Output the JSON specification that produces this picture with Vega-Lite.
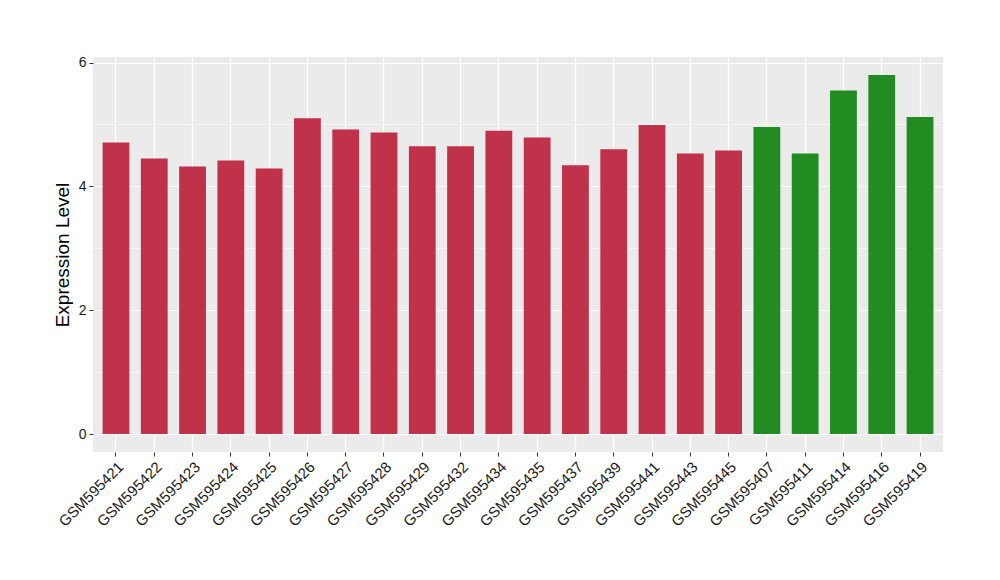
{
  "$schema": "https://vega.github.io/schema/vega-lite/v6.json",
  "autosize": {"type": "none"},
  "width": 850,
  "height": 395,
  "padding": {"left": 93, "top": 57, "right": 57, "bottom": 128},
  "background": "white",
  "config": {
    "view": {"fill": "#EBEBEB", "stroke": null},
    "font": "Liberation Sans"
  },
  "data": {
    "values": [
      {"sample": "GSM595421", "value": 4.71, "group": "a"},
      {"sample": "GSM595422", "value": 4.45, "group": "a"},
      {"sample": "GSM595423", "value": 4.32, "group": "a"},
      {"sample": "GSM595424", "value": 4.42, "group": "a"},
      {"sample": "GSM595425", "value": 4.29, "group": "a"},
      {"sample": "GSM595426", "value": 5.10, "group": "a"},
      {"sample": "GSM595427", "value": 4.92, "group": "a"},
      {"sample": "GSM595428", "value": 4.87, "group": "a"},
      {"sample": "GSM595429", "value": 4.65, "group": "a"},
      {"sample": "GSM595432", "value": 4.65, "group": "a"},
      {"sample": "GSM595434", "value": 4.90, "group": "a"},
      {"sample": "GSM595435", "value": 4.79, "group": "a"},
      {"sample": "GSM595437", "value": 4.34, "group": "a"},
      {"sample": "GSM595439", "value": 4.60, "group": "a"},
      {"sample": "GSM595441", "value": 4.99, "group": "a"},
      {"sample": "GSM595443", "value": 4.53, "group": "a"},
      {"sample": "GSM595445", "value": 4.58, "group": "a"},
      {"sample": "GSM595407", "value": 4.96, "group": "b"},
      {"sample": "GSM595411", "value": 4.53, "group": "b"},
      {"sample": "GSM595414", "value": 5.55, "group": "b"},
      {"sample": "GSM595416", "value": 5.80, "group": "b"},
      {"sample": "GSM595419", "value": 5.12, "group": "b"}
    ]
  },
  "encoding": {
    "x": {
      "field": "sample",
      "type": "nominal",
      "sort": null,
      "scale": {"paddingInner": 0.3, "paddingOuter": 0.25},
      "axis": {
        "title": null,
        "labelAngle": -45,
        "labelAlign": "right",
        "labelBaseline": "top",
        "labelFontSize": 15,
        "labelColor": "#1a1a1a",
        "labelPadding": 3,
        "tickColor": "#333333",
        "tickSize": 4,
        "domain": false,
        "grid": true,
        "gridColor": "white",
        "gridWidth": 1.2
      }
    },
    "color": {
      "field": "group",
      "type": "nominal",
      "scale": {"domain": ["a", "b"], "range": ["#C0314A", "#228B22"]},
      "legend": null
    }
  },
  "resolve": {"axis": {"y": "independent"}},
  "layer": [
    {
      "mark": {"type": "bar", "opacity": 0},
      "encoding": {
        "y": {
          "field": "value",
          "type": "quantitative",
          "scale": {"domain": [-0.29, 6.09], "nice": false, "zero": false},
          "axis": {
            "orient": "left",
            "values": [1, 3, 5],
            "labels": false,
            "ticks": false,
            "domain": false,
            "title": null,
            "grid": true,
            "gridColor": "white",
            "gridWidth": 0.6
          }
        }
      }
    },
    {
      "mark": {"type": "bar"},
      "encoding": {
        "y": {
          "field": "value",
          "type": "quantitative",
          "scale": {"domain": [-0.29, 6.09], "nice": false, "zero": false},
          "axis": {
            "orient": "left",
            "values": [0, 2, 4, 6],
            "title": "Expression Level",
            "titleFontSize": 19,
            "titleFontWeight": "normal",
            "titleColor": "black",
            "titlePadding": 6,
            "labelFontSize": 14,
            "labelColor": "#1a1a1a",
            "labelPadding": 3,
            "tickColor": "#333333",
            "tickSize": 4,
            "domain": false,
            "grid": true,
            "gridColor": "white",
            "gridWidth": 1.2
          }
        }
      }
    }
  ]
}
